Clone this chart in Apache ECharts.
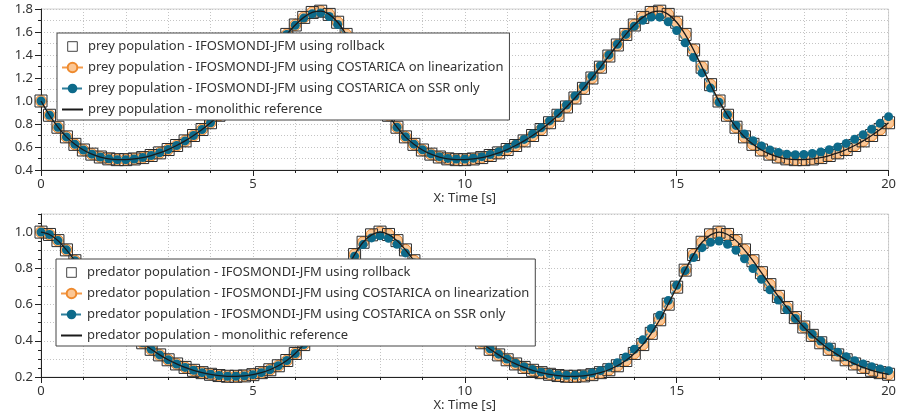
<!DOCTYPE html>
<html><head><meta charset="utf-8">
<script src="https://cdn.jsdelivr.net/npm/echarts@6/dist/echarts.min.js"></script>
<style>html,body{margin:0;padding:0;background:#fff}#c{width:899px;height:413px}</style>
</head><body><div id="c"></div>
<script>
// ---- data ----
const time = [0,0.2,0.4,0.6,0.8,1,1.2,1.4,1.6,1.8,2,2.2,2.4,2.6,2.8,3,3.2,3.4,3.6,3.8,
4,4.2,4.4,4.6,4.8,5,5.2,5.4,5.6,5.8,6,6.2,6.4,6.6,6.8,7,7.2,7.4,7.6,7.8,
8,8.2,8.4,8.6,8.8,9,9.2,9.4,9.6,9.8,10,10.2,10.4,10.6,10.8,11,11.2,11.4,11.6,11.8,
12,12.2,12.4,12.6,12.8,13,13.2,13.4,13.6,13.8,14,14.2,14.4,14.6,14.8,15,15.2,15.4,15.6,15.8,
16,16.2,16.4,16.6,16.8,17,17.2,17.4,17.6,17.8,18,18.2,18.4,18.6,18.8,19,19.2,19.4,19.6,19.8,20];

const preyRef = [1.000,0.876,0.772,0.688,0.623,0.574,0.538,0.513,0.497,0.490,
0.490,0.496,0.508,0.526,0.549,0.578,0.613,0.653,0.700,0.752,
0.811,0.876,0.948,1.026,1.110,1.200,1.294,1.391,1.487,1.579,
1.661,1.727,1.770,1.781,1.753,1.685,1.579,1.444,1.294,1.142,
1.000,0.876,0.772,0.688,0.623,0.574,0.538,0.513,0.497,0.490,
0.490,0.496,0.508,0.526,0.549,0.578,0.613,0.653,0.700,0.752,
0.811,0.876,0.948,1.026,1.110,1.200,1.294,1.391,1.487,1.579,
1.661,1.727,1.770,1.781,1.753,1.685,1.579,1.444,1.294,1.142,
1.000,0.876,0.772,0.688,0.623,0.574,0.538,0.513,0.497,0.490,
0.490,0.496,0.508,0.526,0.549,0.578,0.613,0.653,0.700,0.752,0.811];

const preySsr = [1.000,0.876,0.772,0.688,0.623,0.574,0.538,0.513,0.497,0.490,
0.490,0.496,0.508,0.526,0.549,0.578,0.613,0.653,0.700,0.752,
0.811,0.876,0.948,1.026,1.110,1.200,1.294,1.391,1.487,1.579,
1.659,1.721,1.759,1.766,1.735,1.665,1.559,1.426,1.280,1.132,
0.994,0.874,0.772,0.689,0.625,0.576,0.540,0.516,0.501,0.495,
0.496,0.503,0.516,0.535,0.559,0.589,0.625,0.666,0.714,0.767,
0.827,0.892,0.965,1.043,1.127,1.216,1.307,1.401,1.493,1.579,
1.651,1.702,1.730,1.729,1.689,1.613,1.506,1.379,1.244,1.112,
0.990,0.881,0.788,0.713,0.654,0.609,0.575,0.552,0.538,0.533,
0.535,0.543,0.557,0.577,0.601,0.631,0.667,0.707,0.754,0.806,0.864];

const predRef = [1.000,0.987,0.953,0.902,0.842,0.776,0.710,0.645,0.584,0.528,
0.476,0.430,0.389,0.353,0.322,0.295,0.272,0.253,0.237,0.224,
0.215,0.208,0.204,0.204,0.206,0.213,0.224,0.240,0.262,0.291,
0.330,0.379,0.441,0.516,0.602,0.696,0.790,0.876,0.944,0.985,
1.000,0.987,0.953,0.902,0.842,0.776,0.710,0.645,0.584,0.528,
0.476,0.430,0.389,0.353,0.322,0.295,0.272,0.253,0.237,0.224,
0.215,0.208,0.204,0.204,0.206,0.213,0.224,0.240,0.262,0.291,
0.330,0.379,0.441,0.516,0.602,0.696,0.790,0.876,0.944,0.985,
1.000,0.987,0.953,0.902,0.842,0.776,0.710,0.645,0.584,0.528,
0.476,0.430,0.389,0.353,0.322,0.295,0.272,0.253,0.237,0.224,0.215];

const predSsr = [1.000,0.987,0.953,0.902,0.842,0.776,0.710,0.645,0.584,0.528,
0.476,0.430,0.389,0.353,0.322,0.295,0.272,0.253,0.237,0.224,
0.215,0.208,0.204,0.204,0.206,0.213,0.224,0.240,0.262,0.291,
0.330,0.379,0.441,0.516,0.602,0.694,0.785,0.867,0.931,0.968,
0.980,0.966,0.933,0.885,0.829,0.767,0.704,0.642,0.583,0.528,
0.477,0.432,0.392,0.356,0.326,0.299,0.276,0.257,0.241,0.228,
0.219,0.212,0.209,0.210,0.213,0.222,0.235,0.254,0.279,0.311,
0.353,0.405,0.468,0.541,0.622,0.706,0.787,0.860,0.914,0.944,
0.951,0.933,0.900,0.853,0.799,0.740,0.682,0.625,0.572,0.523,
0.477,0.436,0.399,0.366,0.337,0.312,0.290,0.272,0.257,0.244,0.235];

const xTicks = {min: 0, max: 20, step: 5};
const preyAxis = {min: 0.4, max: 1.8, step: 0.2};
const predAxis = {min: 0.2, max: 1.1, step: 0.2};
const topNames = [
  'prey population - IFOSMONDI-JFM using rollback',
  'prey population - IFOSMONDI-JFM using COSTARICA on linearization',
  'prey population - IFOSMONDI-JFM using COSTARICA on SSR only',
  'prey population - monolithic reference'];
const botNames = [
  'predator population - IFOSMONDI-JFM using rollback',
  'predator population - IFOSMONDI-JFM using COSTARICA on linearization',
  'predator population - IFOSMONDI-JFM using COSTARICA on SSR only',
  'predator population - monolithic reference'];

// ---- styles ----
const FONT = 'Noto Sans';
const AX = '#222';
const GRIDC = '#c4c4c4';
const ORANGE_LINE = '#f39a4a', ORANGE_FILL = '#fcc795', ORANGE_EDGE = '#ee8a2e';
const TEAL = '#0d6a8a', TEAL_LINE = '#2f7f9c';
const pairs = arr => time.map((t, i) => [t, arr[i]]);

function xAxisCfg(g) {
  return {
    type: 'value', gridIndex: g, min: xTicks.min, max: xTicks.max, interval: xTicks.step,
    name: 'X: Time [s]', nameLocation: 'middle', nameGap: g === 0 ? 22 : 21,
    nameTextStyle: {fontFamily: FONT, fontSize: 13, color: '#333'},
    axisLine: {show: true, onZero: false, lineStyle: {color: AX, width: 1}},
    axisTick: {show: true, length: 6, lineStyle: {color: AX}},
    minorTick: {show: true, splitNumber: 5, length: 3, lineStyle: {color: AX}},
    axisLabel: {margin: 8, fontFamily: FONT, fontSize: 13, color: '#333'},
    splitLine: {show: true, lineStyle: {color: GRIDC, type: [1, 2]}},
    minorSplitLine: {show: true, lineStyle: {color: GRIDC, type: [1, 2]}}
  };
}

function legendCfg(names, left, top) {
  return {
    orient: 'vertical', left: left, top: top, padding: [7, 6, 4, 4], itemGap: 8, z: 20,
    itemWidth: 21, itemHeight: 12, backgroundColor: '#fff', borderColor: '#444', borderWidth: 1,
    selectedMode: false, textStyle: {fontFamily: FONT, fontSize: 13, color: '#333'},
    data: [
      {name: names[0], lineStyle: {opacity: 0},
       itemStyle: {color: 'rgba(255,255,255,0)', borderColor: '#444', borderWidth: 1}},
      {name: names[1]},
      {name: names[2]},
      {name: names[3], itemStyle: {opacity: 0}}
    ]
  };
}

const option = {
  animation: false,
  backgroundColor: '#fff',
  grid: [
    {left: 41, right: 8, top: 9, height: 161, show: true, borderColor: '#d2d2d2', borderWidth: 1, backgroundColor: 'transparent'},
    {left: 41, right: 8, top: 214, height: 163, show: true, borderColor: '#d2d2d2', borderWidth: 1, backgroundColor: 'transparent'}
  ],
  xAxis: [xAxisCfg(0), xAxisCfg(1)],
  yAxis: [
    {
      type: 'value', gridIndex: 0, min: preyAxis.min, max: preyAxis.max, interval: preyAxis.step,
      axisLine: {show: true, lineStyle: {color: AX}},
      axisTick: {show: true, length: 6, lineStyle: {color: AX}},
      minorTick: {show: true, splitNumber: 2, length: 3, lineStyle: {color: AX}},
      axisLabel: {margin: 8, fontFamily: FONT, fontSize: 13, color: '#333', formatter: v => v.toFixed(1)},
      splitLine: {show: true, lineStyle: {color: GRIDC, type: [1, 2]}},
      minorSplitLine: {show: true, lineStyle: {color: GRIDC, type: [1, 2]}}
    },
    {
      type: 'value', gridIndex: 1, position: 'left', min: predAxis.min, max: predAxis.max, interval: predAxis.step,
      axisLine: {show: true, lineStyle: {color: AX}},
      axisTick: {show: true, length: 6, lineStyle: {color: AX}},
      minorTick: {show: false},
      axisLabel: {margin: 8, fontFamily: FONT, fontSize: 13, color: '#333', showMaxLabel: false, formatter: v => v.toFixed(1)},
      splitLine: {show: false}
    },
    {
      type: 'value', gridIndex: 1, position: 'left', min: predAxis.min, max: predAxis.max, interval: 0.1,
      axisLine: {show: false},
      axisTick: {show: true, length: 3, lineStyle: {color: AX}},
      minorTick: {show: true, splitNumber: 2, length: 3, lineStyle: {color: AX}},
      axisLabel: {show: false},
      splitLine: {show: true, lineStyle: {color: GRIDC, type: [1, 2]}}
    }
  ],
  legend: [legendCfg(topNames, 57, 33), legendCfg(botNames, 56, 259)],
  series: []
};

function addSeries(names, g, yIdx, ref, ssr) {
  option.series.push(
    {name: names[1], type: 'line', xAxisIndex: g, yAxisIndex: yIdx, data: pairs(ref), z: 2,
     symbol: 'circle', symbolSize: 11, showSymbol: true, showAllSymbol: true, silent: true,
     lineStyle: {color: ORANGE_LINE, width: 1.2},
     itemStyle: {color: ORANGE_FILL, borderColor: ORANGE_EDGE, borderWidth: 1}},
    {name: names[0], type: 'line', xAxisIndex: g, yAxisIndex: yIdx, data: pairs(ref), z: 3,
     symbol: 'rect', symbolSize: 12, showSymbol: true, showAllSymbol: true, silent: true,
     lineStyle: {width: 0, opacity: 0},
     itemStyle: {color: 'rgba(255,255,255,0)', borderColor: '#2a2a2a', borderWidth: 1}},
    {name: names[2], type: 'line', xAxisIndex: g, yAxisIndex: yIdx, data: pairs(ssr), z: 4,
     symbol: 'circle', symbolSize: 9, showSymbol: true, showAllSymbol: true, silent: true,
     lineStyle: {color: TEAL_LINE, width: 1.2, type: 'dashed'},
     itemStyle: {color: TEAL, borderWidth: 0}},
    {name: names[3], type: 'line', xAxisIndex: g, yAxisIndex: yIdx, data: pairs(ref), z: 5,
     symbol: 'none', smooth: 0.3, silent: true,
     lineStyle: {color: '#1a1a1a', width: 1.3},
     itemStyle: {color: '#1a1a1a'}}
  );
}
addSeries(topNames, 0, 0, preyRef, preySsr);
addSeries(botNames, 1, 1, predRef, predSsr);

const chart = echarts.init(document.getElementById('c'));
chart.setOption(option);
</script>
</body></html>
